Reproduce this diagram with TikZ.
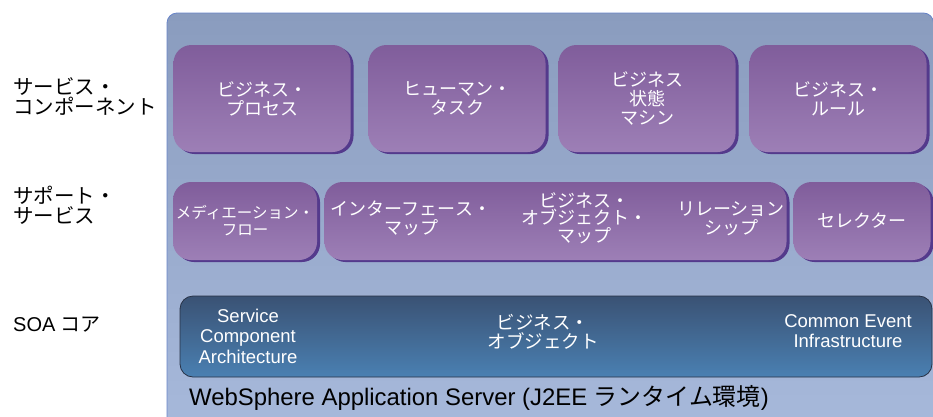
\documentclass[tikz,border=0pt]{standalone}
\usepackage{fontspec}
\setmainfont{Liberation Sans}
\newfontfamily\jpfont{Noto Sans CJK JP}
\usetikzlibrary{shadows}
\definecolor{panelA}{RGB}{138,156,190}
\definecolor{panelB}{RGB}{168,186,220}
\definecolor{panelrim}{RGB}{104,132,200}
\definecolor{violA}{RGB}{128,93,155}
\definecolor{violB}{RGB}{157,127,182}
\definecolor{violdark}{RGB}{84,58,140}
\definecolor{coreA}{RGB}{58,82,116}
\definecolor{coreB}{RGB}{74,128,178}
\definecolor{corerim}{RGB}{40,50,70}

\tikzset{
  panel/.style={draw=panelrim, line width=0.8pt, rounded corners=10pt,
    top color=panelA, bottom color=panelB},
  svcbox/.style={rounded corners=18pt, top color=violA, bottom color=violB,
    general shadow={fill=violdark, shadow xshift=3pt, shadow yshift=-2pt},
    text=white, font=\jpfont\fontsize{18}{19}\selectfont, align=center,
    inner sep=0pt},
  corebox/.style={draw=corerim, line width=0.8pt, rounded corners=13pt,
    top color=coreA, bottom color=coreB},
  boxtext/.style={text=white, align=center, inner sep=0pt},
  sidelabel/.style={anchor=west, align=left, inner sep=0pt,
    font=\jpfont\fontsize{20.5}{20}\selectfont}
}

\begin{document}
\begin{tikzpicture}[x=1pt, y=-1pt]
\useasboundingbox (0,0) rectangle (933,416);
\clip (0,0) rectangle (933,416);
% server panel behind everything
\draw[panel] (167,13) rectangle (933.5,445);

% service components
\foreach \n/\x/\t in {bproc/262/{ビジネス・\\プロセス},
                      htask/457/{ヒューマン・\\タスク},
                      bstate/647/{ビジネス\\状態\\マシン},
                      brule/838/{ビジネス・\\ルール}}
  \node[svcbox, minimum width=177pt, minimum height=107pt] (\n) at (\x,98.5) {\t};

% supporting services
\node[svcbox, minimum width=144pt, minimum height=78pt,
      font=\jpfont\fontsize{15.5}{17}\selectfont] (medflow) at (245,221) {メディエーション・\\フロー};
\node[svcbox, minimum width=462pt, minimum height=78pt] (maps) at (555.5,221) {};
\node[svcbox, minimum width=137pt, minimum height=78pt] (selector) at (862,221) {セレクター};
\node[boxtext, font=\jpfont\fontsize{18}{19}\selectfont] (ifmap) at (411,218) {インターフェース・\\マップ};
\node[boxtext, font=\jpfont\fontsize{18}{17.5}\selectfont] (bomap) at (584,218) {ビジネス・\\オブジェクト・\\マップ};
\node[boxtext, font=\jpfont\fontsize{18}{19}\selectfont] (relship) at (731,219) {リレーション\\シップ};

% SOA core
\node[corebox, minimum width=752pt, minimum height=81pt] (core) at (556,336.5) {};
\node[boxtext, font=\fontsize{18.5}{20.5}\selectfont] (sca) at (248,336) {Service\\Component\\Architecture};
\node[boxtext, font=\jpfont\fontsize{18.5}{19}\selectfont] (bo) at (543,332) {ビジネス・\\オブジェクト};
\node[boxtext, font=\fontsize{18.5}{20.5}\selectfont] (cei) at (848,331) {Common Event\\Infrastructure};

\node[anchor=base west, inner sep=0pt, font=\fontsize{23.9}{24}\selectfont] (was) at (189,405)
  {WebSphere Application Server (J2EE {\jpfont ランタイム環境})};

% row names on the left
\node[sidelabel] (lblsvc) at (13,96.5) {サービス・\\コンポーネント};
\node[sidelabel] (lblsup) at (13,205) {サポート・\\サービス};
\node[sidelabel, font=\fontsize{20}{20}\selectfont] (lblsoa) at (13,325) {SOA {\jpfont コア}};
\end{tikzpicture}
\end{document}
